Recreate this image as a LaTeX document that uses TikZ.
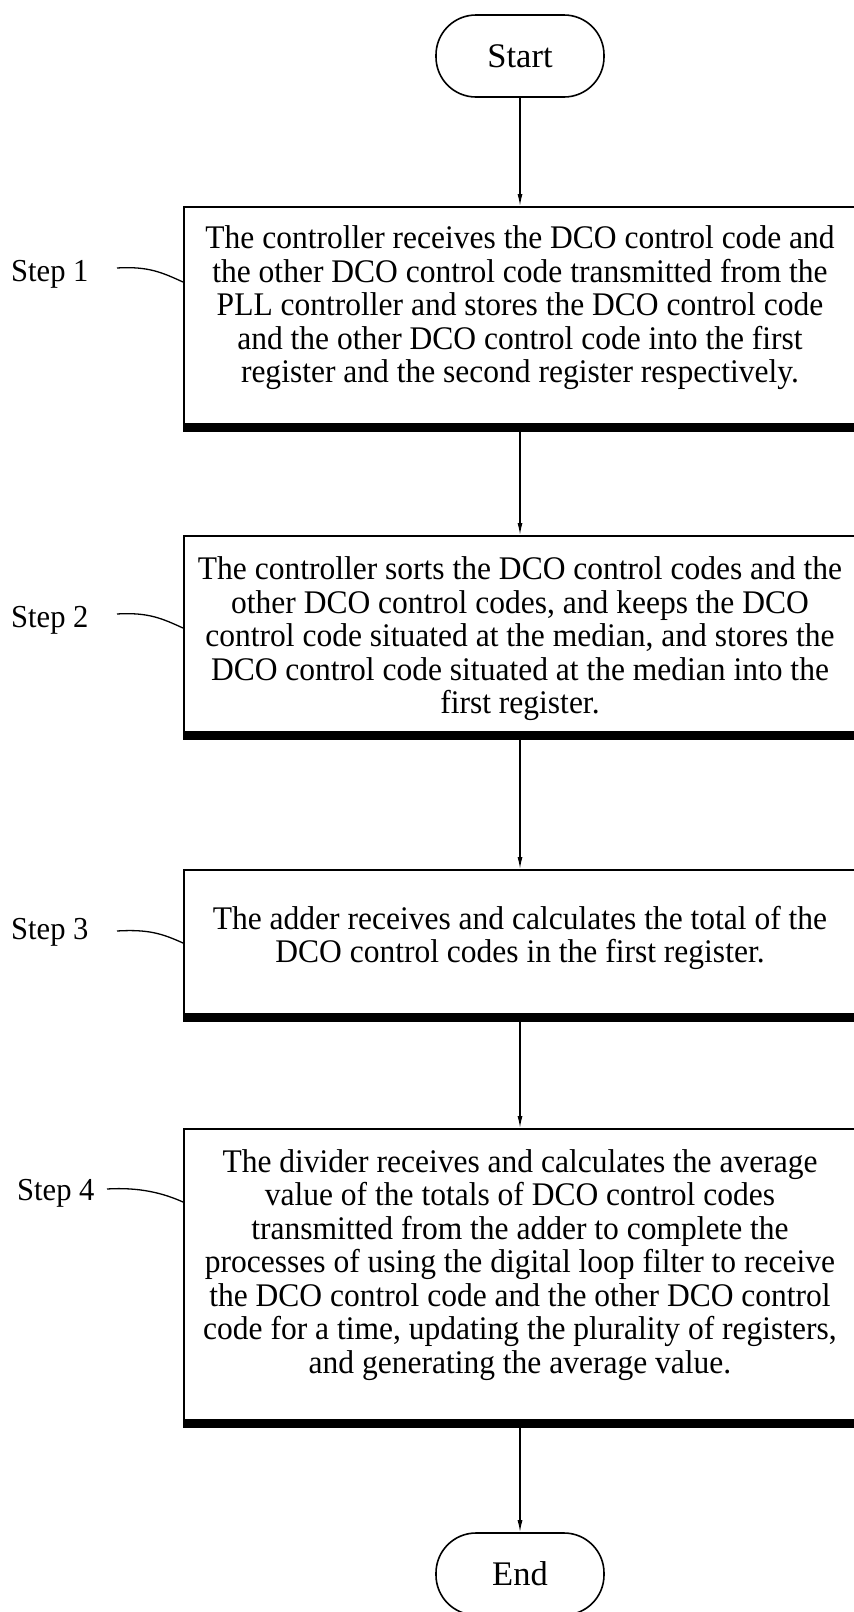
\documentclass[tikz,border=0pt]{standalone}
\usepackage{fontspec}
\setmainfont{Liberation Serif}
\newfontfamily\condfont[FakeStretch=0.955]{Liberation Serif}
\usetikzlibrary{arrows.meta,calc}
\begin{document}
\begin{tikzpicture}[x=1pt,y=-1pt,
  term/.style={draw, line width=1.6pt, rounded corners=40pt, minimum width=168pt, minimum height=82pt, inner sep=0pt, font=\fontsize{34.5pt}{36pt}\selectfont},
  stepbox/.style={draw, line width=1.8pt, anchor=north west, minimum width=675pt, inner sep=0pt},
  txt/.style={align=center, inner sep=0pt, font=\condfont\fontsize{33pt}{33.5pt}\selectfont},
  lbl/.style={anchor=west, inner sep=0pt, font=\condfont\fontsize{32pt}{33pt}\selectfont},
  shade/.style={line width=7pt},
  arr/.style={line width=1.3pt, -{Latex[length=12pt,width=5pt]}},
  leader/.style={line width=1.3pt}]
\useasboundingbox (0,0) rectangle (854,1612);

% terminals
\node[term] (st) at (520,56) {Start};
\node[term] (en) at (520,1574) {End};

% boxes
\node[stepbox, minimum height=217pt] (b1) at (183,206) {};
\node[stepbox, minimum height=196pt] (b2) at (183,535) {};
\node[stepbox, minimum height=144pt] (b3) at (183,869) {};
\node[stepbox, minimum height=291pt] (b4) at (183,1128) {};
\foreach \b in {b1,b2,b3,b4}{
  \draw[shade] ([yshift=-3.5pt]\b.south west) -- ([yshift=-3.5pt]\b.south east);
}

% texts
\node[txt] (t1) at (520,308) {The controller receives the DCO control code and\\the other DCO control code transmitted from the\\PLL controller and stores the DCO control code\\and the other DCO control code into the first\\register and the second register respectively.};
\node[txt] (t2) at (520,639) {The controller sorts the DCO control codes and the\\other DCO control codes, and keeps the DCO\\control code situated at the median, and stores the\\DCO control code situated at the median into the\\first register.};
\node[txt] (t3) at (520,938) {The adder receives and calculates the total of the\\DCO control codes in the first register.};
\node[txt] (t4) at (520,1265) {The divider receives and calculates the average\\value of the totals of DCO control codes\\transmitted from the adder to complete the\\processes of using the digital loop filter to receive\\the DCO control code and the other DCO control\\code for a time, updating the plurality of registers,\\and generating the average value.};

% step labels
\node[lbl] (s1) at (11,274) {Step 1};
\node[lbl] (s2) at (11,620) {Step 2};
\node[lbl] (s3) at (11,932) {Step 3};
\node[lbl] (s4) at (17,1193) {Step 4};

\coordinate (c1) at (117,268); \coordinate (e1) at (b1.west |- 0,282);
\coordinate (c2) at (117,614); \coordinate (e2) at (b2.west |- 0,628);
\coordinate (c3) at (117,931); \coordinate (e3) at (b3.west |- 0,943);
\coordinate (c4) at (107,1189); \coordinate (e4) at (b4.west |- 0,1202);
\foreach \i in {1,2,3,4}{
  \draw[leader] (c\i) .. controls ($(c\i)+(32,-2)$) and ($(e\i)+(-20,-9)$) .. (e\i);
}

% connectors
\draw[arr] (st.south) -- (st.south |- b1.north);
\draw[arr] (b1.south -| st.south) -- (b2.north -| st.south);
\draw[arr] (b2.south -| st.south) -- (b3.north -| st.south);
\draw[arr] (b3.south -| st.south) -- (b4.north -| st.south);
\draw[arr] (b4.south -| st.south) -- (en.north);
\end{tikzpicture}
\end{document}
